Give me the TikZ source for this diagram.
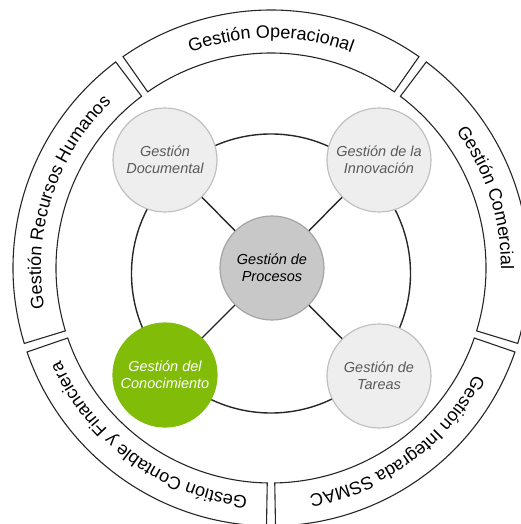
\documentclass[tikz,border=0pt]{standalone}
\usepackage{fontspec}
\setmainfont{Liberation Sans}
\usepackage{tikz}
\usetikzlibrary{positioning, decorations.text}
\definecolor{satFill}{RGB}{238,238,238}
\definecolor{satDraw}{RGB}{192,192,192}
\definecolor{satText}{RGB}{90,90,90}
\definecolor{hubFill}{RGB}{200,200,200}
\definecolor{hubDraw}{RGB}{165,165,165}
\definecolor{focusFill}{RGB}{128,188,8}
\definecolor{lineGrey}{RGB}{38,38,38}
\newcommand{\ringfont}{\fontsize{18}{22}\selectfont}
\tikzstyle{satellite} = [circle, minimum size=104pt, inner sep=0pt, align=center, fill=satFill, draw=satDraw, line width=1.2pt, text=satText, font=\fontsize{14.5}{17.4}\selectfont\itshape]
\tikzstyle{hub} = [satellite, fill=hubFill, draw=hubDraw, text=black]
\tikzstyle{focus} = [satellite, fill=focusFill, draw=focusFill, text=white]
\tikzstyle{line} = [line width=1.4pt, draw=lineGrey]
\tikzstyle{outersector} = [line width=1.1pt, draw=lineGrey]
\tikzstyle{ringtext} = [decorate, decoration={text along path, text align=center}]

\begin{document}
\begin{tikzpicture}[x=1pt, y=1pt, node distance=107pt]
	\useasboundingbox (-271,-256) rectangle (250,268);
	\clip (-271,-256) rectangle (250,268);

	\draw [outersector] (125:258pt) arc (125:55:258pt) -- (55:215pt) arc (55:125:215pt) -- cycle;
	\draw [outersector] (53:258pt) arc (53:-17:258pt) -- (-17:215pt) arc (-17:53:215pt) -- cycle;
	\draw [outersector] (-19:258pt) arc (-19:-89:258pt) -- (-89:215pt) arc (-89:-19:215pt) -- cycle;
	\draw [outersector] (-91:258pt) arc (-91:-161:258pt) -- (-161:215pt) arc (-161:-91:215pt) -- cycle;
	\draw [outersector] (197:258pt) arc (197:127:258pt) -- (127:215pt) arc (127:197:215pt) -- cycle;

	\path [ringtext, decoration={text={|\ringfont|Gestión Operacional}}] (125:230pt) arc (125:55:230pt);
	\path [ringtext, decoration={text={|\ringfont|Gestión Comercial}}] (53:230pt) arc (53:-17:230pt);
	\path [ringtext, decoration={text={|\ringfont|Gestión Integrada SSMAC}}] (-19:230pt) arc (-19:-89:230pt);
	\path [ringtext, decoration={text={|\ringfont|Gestión Contable y Financiera}}] (-91:230pt) arc (-91:-161:230pt);
	\path [ringtext, decoration={text={|\ringfont|Gestión Recursos Humanos}}] (197:230pt) arc (197:127:230pt);

	\draw [line] (0,-5.5) circle (139.5pt);

	\node (circProcesos) [hub] at (1,0) {Gestión de\\Procesos};
	\node (circDocumental) [satellite, left of=circProcesos, yshift=108pt] {Gestión\\Documental};
	\node (circInnovacion) [satellite, right of=circProcesos, yshift=108pt] {Gestión de la\\Innovación};
	\node (circConocimiento) [focus, left of=circProcesos, yshift=-107pt] {Gestión del\\Conocimiento};
	\node (circTareas) [satellite, right of=circProcesos, yshift=-108pt] {Gestión de\\Tareas};

	\draw [line] (circProcesos) -- (circDocumental);
	\draw [line] (circProcesos) -- (circInnovacion);
	\draw [line] (circProcesos) -- (circConocimiento);
	\draw [line] (circProcesos) -- (circTareas);
\end{tikzpicture}
\end{document}
